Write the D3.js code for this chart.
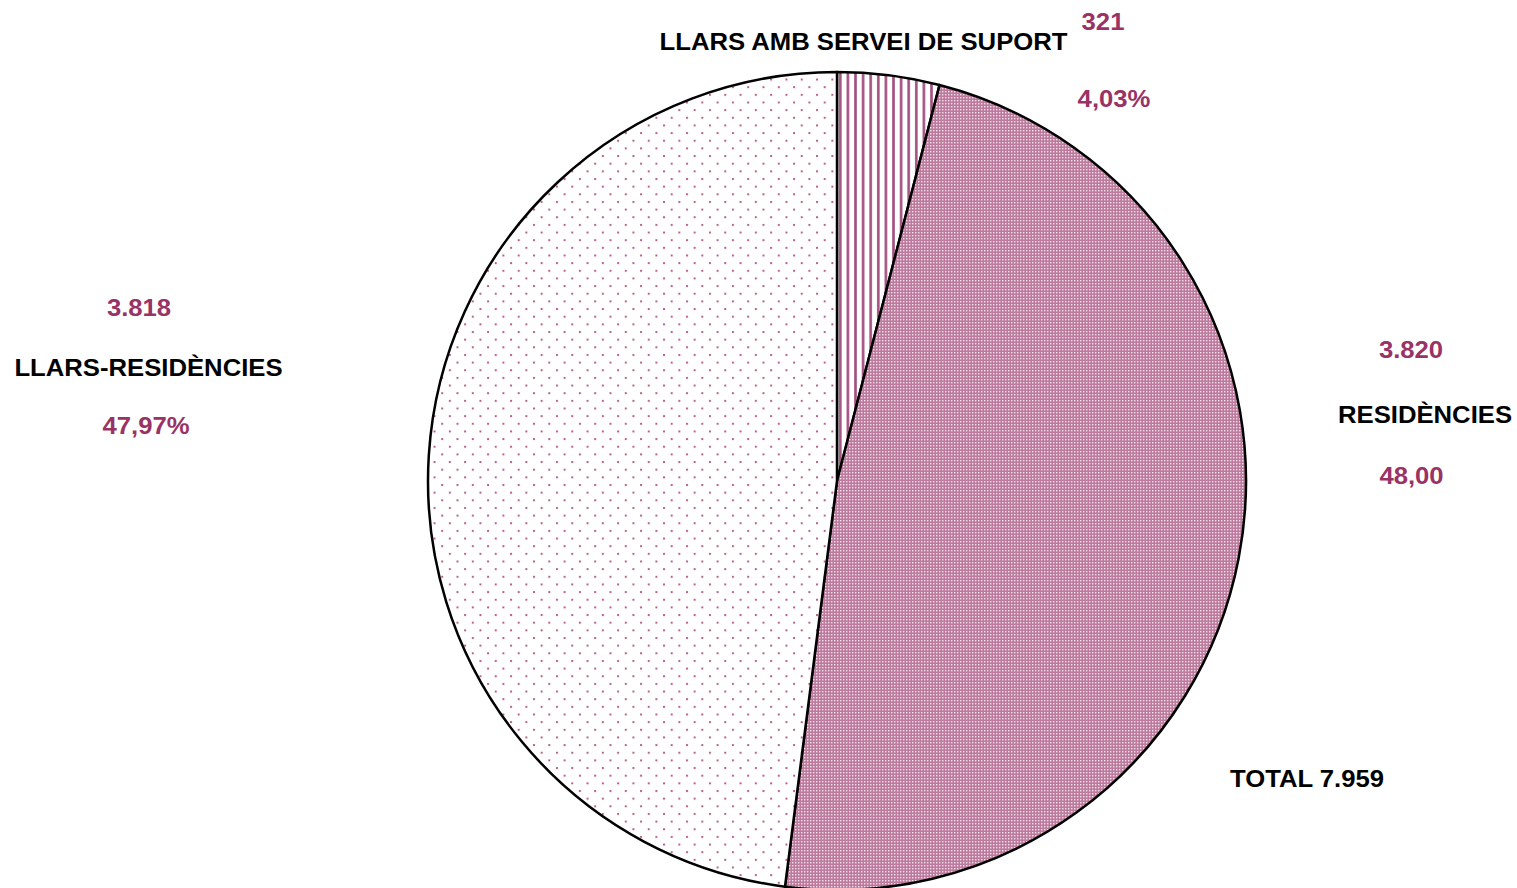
<!DOCTYPE html>
<html>
<head>
<meta charset="utf-8">
<script src="https://cdn.jsdelivr.net/npm/d3@7"></script>
<style>
  html, body { margin: 0; padding: 0; background: #ffffff; }
  svg { display: block; }
</style>
</head>
<body>
<script>
// ---- data ----
const categories = ["LLARS AMB SERVEI DE SUPORT", "RESIDÈNCIES", "LLARS-RESIDÈNCIES"];
const values = [321, 3820, 3818];
const valueLabels = ["321", "3.820", "3.818"];
const percentLabels = ["4,03%", "48,00", "47,97%"];
const totalLabel = "TOTAL 7.959";

// ---- layout ----
const W = 1517, H = 888;
const cx = 837, cy = 481, R = 409;
const plum = "#993366";

const svg = d3.select("body").append("svg").attr("width", W).attr("height", H);
const defs = svg.append("defs");

// vertical stripes
const pStripe = defs.append("pattern").attr("id", "stripes")
  .attr("patternUnits", "userSpaceOnUse").attr("width", 7.6).attr("height", 10);
pStripe.append("rect").attr("width", 7.6).attr("height", 10).attr("fill", "#ffffff");
pStripe.append("rect").attr("x", 2).attr("width", 2.6).attr("height", 10).attr("fill", "#a3507f");

// fine checker
const pCheck = defs.append("pattern").attr("id", "checker")
  .attr("patternUnits", "userSpaceOnUse").attr("width", 3).attr("height", 3);
pCheck.append("rect").attr("width", 3).attr("height", 3).attr("fill", "#bd7a9d");
pCheck.append("rect").attr("width", 1.4).attr("height", 1.4).attr("fill", "#f3e2ea");

// sparse dots
const dp = 15.3;
const pDots = defs.append("pattern").attr("id", "dots")
  .attr("patternUnits", "userSpaceOnUse").attr("width", dp).attr("height", dp)
  .attr("x", 2).attr("y", 3);
pDots.append("rect").attr("width", dp).attr("height", dp).attr("fill", "#ffffff");
pDots.append("rect").attr("x", 0).attr("y", 0).attr("width", 2).attr("height", 2).attr("fill", "#b4638f");
pDots.append("rect").attr("x", dp / 2).attr("y", dp / 2).attr("width", 2).attr("height", 2).attr("fill", "#b4638f");

const fills = ["url(#stripes)", "url(#checker)", "url(#dots)"];

const pie = d3.pie().sort(null).value(d => d.value);
const arcs = pie(categories.map((c, i) => ({ cat: c, value: values[i], i })));
const arc = d3.arc().innerRadius(0).outerRadius(R);

const g = svg.append("g").attr("transform", `translate(${cx},${cy})`);
g.selectAll("path.slice").data(arcs).enter().append("path")
  .attr("class", "slice")
  .attr("d", arc)
  .attr("fill", d => fills[d.data.i])
  .attr("stroke", "#000000")
  .attr("stroke-width", 2.5)
  .attr("stroke-linejoin", "round");

// ---- labels ----
const fontFam = "'Liberation Sans', Arial, Helvetica, sans-serif";
function label(text, x, y, color) {
  svg.append("text")
    .attr("transform", `translate(${x},${y}) scale(1.07,1)`)
    .attr("text-anchor", "middle")
    .attr("font-family", fontFam)
    .attr("font-weight", "bold")
    .attr("font-size", 24)
    .attr("fill", color)
    .text(text);
}

// label anchor positions per category (x center, baselines for value / name / percent)
const labelPos = [
  { name: [863.5, 50], value: [1103, 30], pct: [1114, 106.5] },
  { name: [1425, 422.5], value: [1411, 358], pct: [1411.5, 483.5] },
  { name: [148.5, 375.5], value: [139, 316], pct: [146, 434] }
];
categories.forEach((c, i) => {
  const p = labelPos[i];
  label(c, p.name[0], p.name[1], "#000000");
  label(valueLabels[i], p.value[0], p.value[1], plum);
  label(percentLabels[i], p.pct[0], p.pct[1], plum);
});
label(totalLabel, 1307, 786.5, "#000000");
</script>
</body>
</html>
